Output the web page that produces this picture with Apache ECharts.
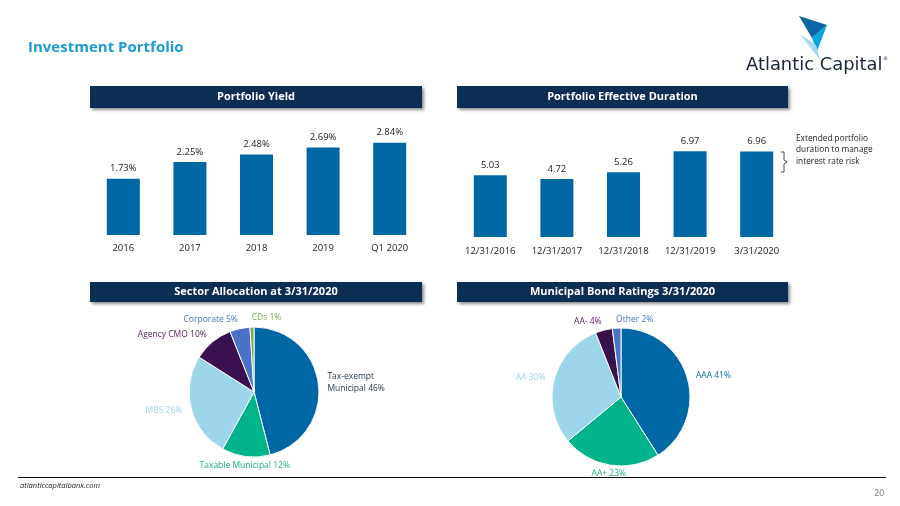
<!DOCTYPE html>
<html>
<head>
<meta charset="utf-8">
<style>
html,body{margin:0;padding:0;background:#fff;}
#c{width:900px;height:506px;}
</style>
<script src="https://cdn.jsdelivr.net/npm/echarts@6/dist/echarts.min.js"></script>
</head>
<body>
<div id="c"></div>
<script>
// ---- data ----
const yieldCats = ['2016', '2017', '2018', '2019', 'Q1 2020'];
const yieldVals = [1.73, 2.25, 2.48, 2.69, 2.84];
const durCats = ['12/31/2016', '12/31/2017', '12/31/2018', '12/31/2019', '3/31/2020'];
const durVals = [5.03, 4.72, 5.26, 6.97, 6.96];
const sectorNames = ['Tax-exempt\nMunicipal', 'Taxable Municipal', 'MBS', 'Agency CMO', 'Corporate', 'CDs'];
const sectorVals = [46, 12, 26, 10, 5, 1];
const ratingNames = ['AAA', 'AA+', 'AA', 'AA-', 'Other'];
const ratingVals = [41, 23, 30, 4, 2];

const FONT = '"Open Sans", "Noto Sans", sans-serif';
const sliceColors = ['#0067a5', '#00b38a', '#9dd5ea', '#3a1150', '#4a72c6', '#72b04a'];
const sectorLabelColors = ['#26394c', '#1aae8a', '#9dd5ea', '#5a1c5c', '#4a72c6', '#72b04a'];
const ratingLabelColors = ['#0a6ea8', '#1aae8a', '#9dd5ea', '#5a1c5c', '#4a72c6'];

function pieData(names, vals, labelColors) {
  return vals.map((v, i) => ({
    name: names[i], value: v,
    itemStyle: { color: sliceColors[i] },
    label: { color: labelColors[i] }
  }));
}

// place each label just outside its slice, along the slice's mid angle
function pieLabelLayout(vals, cx, cy, r, gap) {
  const total = vals.reduce((a, b) => a + b, 0);
  const cum = [];
  vals.reduce((acc, v, i) => { cum[i] = acc; return acc + v; }, 0);
  return function (params) {
    const i = params.dataIndex;
    const mid = (cum[i] + vals[i] / 2) / total * Math.PI * 2;
    const dx = Math.sin(mid), dy = -Math.cos(mid);
    let align;
    if (dy < -0.85) align = dx > -0.1 ? 'left' : 'right';
    else if (dy > 0.85) align = 'center';
    else align = dx > 0 ? 'left' : 'right';
    return { x: cx + (r + gap) * dx, y: cy + (r + gap) * dy, align: align, verticalAlign: 'middle' };
  };
}

function header(x, y, w, h, text) {
  return {
    type: 'group',
    children: [
      { type: 'rect', shape: { x: x, y: y, width: w, height: h },
        style: { fill: '#0c2d54', shadowBlur: 3, shadowOffsetX: 2, shadowOffsetY: 2, shadowColor: 'rgba(0,0,0,0.45)' } },
      { type: 'text', x: x + w / 2, y: y + h / 2,
        style: { text: text, fill: '#fff', font: 'bold 11px ' + FONT, align: 'center', verticalAlign: 'middle' } }
    ]
  };
}

const chart = echarts.init(document.getElementById('c'), null, { renderer: 'canvas' });

const SEC = { cx: 254, cy: 392, r: 65 };
const MUN = { cx: 621, cy: 397, r: 69 };

const option = {
  backgroundColor: '#fff',
  animation: false,
  textStyle: { fontFamily: FONT },
  grid: [
    { left: 90, top: 105, width: 333, height: 130 },
    { left: 457, top: 114, width: 333, height: 123 }
  ],
  xAxis: [
    { type: 'category', gridIndex: 0, data: yieldCats,
      axisLine: { show: false }, axisTick: { show: false },
      axisLabel: { color: '#222', fontSize: 9.5, margin: 8, interval: 0, fontFamily: FONT } },
    { type: 'category', gridIndex: 1, data: durCats,
      axisLine: { show: false }, axisTick: { show: false },
      axisLabel: { color: '#222', fontSize: 9.5, margin: 9, interval: 0, fontFamily: FONT } }
  ],
  yAxis: [
    { type: 'value', gridIndex: 0, min: 0, max: 4, show: false, splitLine: { show: false } },
    { type: 'value', gridIndex: 1, min: 0, max: 10, show: false, splitLine: { show: false } }
  ],
  series: [
    { type: 'bar', xAxisIndex: 0, yAxisIndex: 0, data: yieldVals, barWidth: 33,
      itemStyle: { color: '#0067a5' },
      label: { show: true, position: 'top', distance: 5, color: '#222', fontSize: 9.5, fontFamily: FONT,
        formatter: p => p.value.toFixed(2) + '%' } },
    { type: 'bar', xAxisIndex: 1, yAxisIndex: 1, data: durVals, barWidth: 33,
      itemStyle: { color: '#0067a5' },
      label: { show: true, position: 'top', distance: 5, color: '#222', fontSize: 9.5, fontFamily: FONT,
        formatter: p => p.value.toFixed(2) } },
    { type: 'pie', center: [SEC.cx, SEC.cy], radius: SEC.r, startAngle: 90, clockwise: true,
      avoidLabelOverlap: false,
      data: pieData(sectorNames, sectorVals, sectorLabelColors),
      itemStyle: { borderColor: '#fff', borderWidth: 1 },
      label: { show: true, position: 'outside', fontSize: 8.5, fontFamily: FONT, lineHeight: 12,
        formatter: p => p.name + ' ' + p.value + '%' },
      labelLine: { show: false },
      labelLayout: pieLabelLayout(sectorVals, SEC.cx, SEC.cy, SEC.r, 9) },
    { type: 'pie', center: [MUN.cx, MUN.cy], radius: MUN.r, startAngle: 90, clockwise: true,
      avoidLabelOverlap: false,
      data: pieData(ratingNames, ratingVals, ratingLabelColors),
      itemStyle: { borderColor: '#fff', borderWidth: 1 },
      label: { show: true, position: 'outside', fontSize: 8.5, fontFamily: FONT,
        formatter: p => p.name + ' ' + p.value + '%' },
      labelLine: { show: false },
      labelLayout: pieLabelLayout(ratingVals, MUN.cx, MUN.cy, MUN.r, 9) }
  ],
  graphic: [
    { type: 'text', x: 28, y: 48,
      style: { text: 'Investment Portfolio', fill: '#1b9cd8', font: 'bold 15px ' + FONT, verticalAlign: 'middle' } },
    // logo
    { type: 'polygon', shape: { points: [[799, 16], [827, 25], [812, 38]] }, style: { fill: '#0b66a4' } },
    { type: 'polygon', shape: { points: [[812, 38], [827, 25], [817, 51]] }, style: { fill: '#00a6df' } },
    { type: 'polygon', shape: { points: [[800, 34], [816, 45], [820, 60]] }, style: { fill: '#a3d8ee' } },
    { type: 'text', x: 746, y: 65,
      style: { text: 'Atlantic Capital', fill: '#17263f', font: '17.9px "DejaVu Sans", sans-serif', verticalAlign: 'middle' } },
    { type: 'text', x: 883, y: 59,
      style: { text: '®', fill: '#17263f', font: '5px "DejaVu Sans", sans-serif', verticalAlign: 'middle' } },
    header(90, 86, 332, 22, 'Portfolio Yield'),
    header(457, 86, 331, 22, 'Portfolio Effective Duration'),
    header(90, 282, 332, 20, 'Sector Allocation at 3/31/2020'),
    header(457, 282, 331, 20, 'Municipal Bond Ratings 3/31/2020'),
    // annotation brace
    { type: 'polyline', shape: { points: [[781, 152], [784, 152], [784, 160], [787, 162], [784, 164], [784, 172], [781, 172]] },
      style: { stroke: '#222', lineWidth: 0.8, fill: null } },
    { type: 'text', x: 796, y: 150,
      style: { text: 'Extended portfolio\nduration to manage\ninterest rate risk', fill: '#222', font: '8.3px ' + FONT, lineHeight: 11.5, verticalAlign: 'middle' } },
    // footer
    { type: 'line', shape: { x1: 18, y1: 477.5, x2: 886, y2: 477.5 }, style: { stroke: '#111', lineWidth: 1 } },
    { type: 'text', x: 20, y: 486,
      style: { text: 'atlanticcapitalbank.com', fill: '#222', font: 'italic 7.5px ' + FONT, verticalAlign: 'middle' } },
    { type: 'text', x: 884, y: 494,
      style: { text: '20', fill: '#777', font: '8.5px ' + FONT, align: 'right', verticalAlign: 'middle' } }
  ]
};
chart.setOption(option);
</script>
</body>
</html>
